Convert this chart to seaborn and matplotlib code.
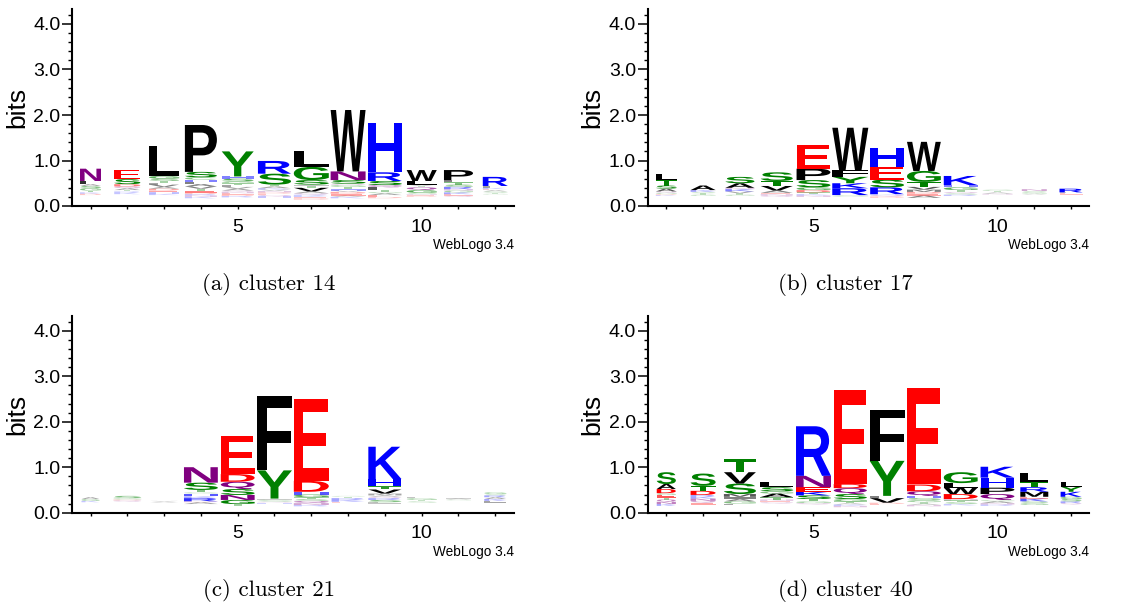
import matplotlib
matplotlib.use("Agg")
import matplotlib.pyplot as plt
import matplotlib.transforms as mtransforms
import seaborn as sns
from matplotlib.textpath import TextPath
from matplotlib.patches import PathPatch
from matplotlib.font_manager import FontProperties
from matplotlib.ticker import FixedLocator

# positions 1..12; each stack is listed bottom -> top (letters, heights in bits)
# floor = summed height of the many tiny letters too thin to be seen

# cluster 14
c14_floor = [.24, .26, .24, .17, .19, .18, .14, .17, .17, .20, .20, .25]
c14_width = [.57, .71, .82, .87, .87, .90, .95, .95, .92, .82, .79, .68]
c14_letters = ["DKTGSALN", "KRTAQDSE", "KHEDAVFTSGL", "KNRDETVALHCSP",
               "RDENQAVLTGSHY", "HQEDNVKATSR", "DEKRQAVTISGL", "KAEDVHTGQSNW",
               "DEAGTLQSRH", "DENSGQTVLW", "QEKGNRSTLP", "GTSAEKLR"]
c14_heights = [
    [.03, .03, .04, .05, .05, .04, .07, .27],
    [.03, .03, .03, .04, .04, .05, .11, .21],
    [.03, .03, .04, .04, .04, .05, .04, .04, .05, .06, .66],
    [.03, .03, .03, .03, .05, .04, .05, .05, .05, .05, .05, .12, 1.03],
    [.03, .03, .03, .03, .03, .04, .04, .04, .04, .04, .06, .05, .55],
    [.03, .03, .03, .03, .03, .03, .03, .04, .04, .24, .28],
    [.03, .03, .03, .02, .03, .04, .08, .04, .03, .10, .29, .35],
    [.03, .03, .04, .04, .03, .04, .04, .04, .03, .08, .19, 1.35],
    [.03, .04, .04, .03, .04, .06, .05, .09, .19, 1.08],
    [.02, .02, .02, .03, .06, .06, .03, .03, .08, .24],
    [.03, .03, .04, .04, .03, .05, .05, .05, .05, .22],
    [.02, .02, .03, .03, .02, .03, .04, .20],
]

# cluster 17
c17_floor = [.22, .22, .22, .20, .20, .20, .18, .18, .22, .25, .25, .25]
c17_width = [.57, .68, .79, .87, .92, .98, .92, .92, .92, .82, .68, .63]
c17_letters = ["KDGQASTL", "GTSKA", "GTVKNAS", "QNEAVTS", "NKTDGSPE",
               "GSRKYFW", "DQKRSEH", "AEDMVTGW", "RSQTGHK", "NATG", "AGSN", "ELR"]
c17_heights = [
    [.02, .02, .03, .03, .06, .07, .12, .14],
    [.03, .03, .03, .04, .10],
    [.03, .03, .04, .05, .03, .10, .14],
    [.03, .03, .03, .05, .10, .11, .19],
    [.03, .03, .04, .05, .06, .16, .25, .52],
    [.02, .02, .15, .11, .14, .15, .93],
    [.03, .03, .02, .15, .17, .28, .42],
    [.05, .04, .04, .05, .06, .11, .24, .64],
    [.03, .03, .03, .04, .06, .05, .20],
    [.02, .03, .03, .03],
    [.02, .03, .03, .04],
    [.03, .02, .08],
]

# cluster 21
c21_floor = [.23, .24, .22, .19, .15, .20, .14, .22, .20, .22, .27, .22]
c21_width = [.49, .76, .76, .92, .92, .95, .95, .90, .90, .82, .68, .60]
c21_letters = ["KGA", "QDGS", "AV", "ADRKHGTSN", "TGNSQDE", "HQSGLYF",
               "RNQSTGHDE", "EKRTG", "LSRQAMVTHK", "STGL", "GAL", "LKARSG"]
c21_heights = [
    [.03, .04, .04],
    [.03, .02, .03, .05],
    [.02, .02],
    [.04, .02, .07, .04, .06, .03, .05, .16, .34],
    [.04, .09, .11, .13, .16, .17, .83],
    [.02, .02, .03, .02, .02, .62, 1.64],
    [.03, .04, .05, .04, .04, .06, .06, .24, 1.80],
    [.02, .04, .04, .03, .02],
    [.03, .05, .04, .03, .03, .04, .09, .07, .16, .71],
    [.03, .03, .04, .03],
    [.02, .02, .02],
    [.04, .04, .04, .04, .03, .04],
]

# cluster 40
c40_floor = [.15, .18, .16, .20, .18, .12, .16, .14, .16, .15, .17, .18]
c40_width = [.52, .68, .87, .90, .95, .90, .95, .92, .92, .92, .76, .57]
c40_letters = ["KNQTEGDAS", "EQNKRDTS", "LGAIMSVT", "QENTAGSL", "QGTSKENR",
               "NKATGSQDE", "EDVLYF", "NATGSHQDE", "KSTNDWLG", "RNAGQPHK",
               "GSKEMRTL", "QRSGKYL"]
c40_heights = [
    [.04, .05, .05, .04, .06, .04, .09, .11, .26],
    [.04, .04, .05, .04, .04, .09, .11, .27],
    [.04, .05, .05, .05, .06, .23, .25, .28],
    [.03, .03, .03, .05, .08, .05, .09, .12],
    [.03, .04, .05, .08, .08, .10, .25, 1.09],
    [.03, .03, .03, .04, .05, .11, .13, .09, 2.07],
    [.03, .03, .10, .05, .77, 1.12],
    [.03, .03, .03, .04, .05, .05, .10, .15, 2.11],
    [.03, .04, .04, .03, .11, .14, .10, .24],
    [.03, .03, .04, .03, .13, .14, .22, .24],
    [.04, .04, .06, .04, .11, .10, .12, .20],
    [.03, .04, .05, .05, .11, .11, .11],
]

captions = ["(a) cluster 14", "(b) cluster 17", "(c) cluster 21", "(d) cluster 40"]

# weblogo "chemistry" colour scheme
chem = {}
for aa in "GSTYC":
    chem[aa] = "#008000"
for aa in "NQ":
    chem[aa] = "#800080"
for aa in "KRH":
    chem[aa] = "#0000ff"
for aa in "DE":
    chem[aa] = "#ff0000"
for aa in "AVLIPWFM":
    chem[aa] = "#000000"

sns.set_theme(style="ticks")
plt.rcParams["font.family"] = ["Liberation Sans", "DejaVu Sans"]

fp = FontProperties(family="Liberation Sans", weight="bold")
_glyphs = {}


def glyph(ch):
    if ch not in _glyphs:
        p = TextPath((0, 0), ch, size=1, prop=fp)
        _glyphs[ch] = (p, p.get_extents())
    return _glyphs[ch]


def draw_logo(ax, floor, widths, letters, heights):
    for i in range(len(letters)):
        x = i + 1
        w = widths[i]
        y = floor[i]
        for ch, h in zip(letters[i], heights[i]):
            path, bb = glyph(ch)
            tr = (mtransforms.Affine2D()
                  .translate(-bb.x0, -bb.y0)
                  .scale(w / bb.width, h / bb.height)
                  .translate(x - w / 2, y))
            # very thin letters render washed out in the original
            a = max(0.18, min(1.0, (h / 0.08) ** 1.5))
            ax.add_patch(PathPatch(tr.transform_path(path), fc=chem[ch],
                                   lw=0, alpha=a))
            y += h


W, H = 1129, 608
unit_x = 36.8
unit_y = 45.5
ymax = 4.32
origins = [(90.5, 206), (666.3, 206), (90.5, 512.7), (666.3, 512.7)]
caption_xy = [(269, 284), (845, 284), (269, 591), (845, 591)]
panels = [
    (c14_floor, c14_width, c14_letters, c14_heights),
    (c17_floor, c17_width, c17_letters, c17_heights),
    (c21_floor, c21_width, c21_letters, c21_heights),
    (c40_floor, c40_width, c40_letters, c40_heights),
]

fig = plt.figure(figsize=(W / 100, H / 100), dpi=100)
fig.patch.set_facecolor("white")

for k, data in enumerate(panels):
    px1, py0 = origins[k]
    left = px1 - 0.5 * unit_x
    rect = [left / W, (H - py0) / H, 12 * unit_x / W, ymax * unit_y / H]
    ax = fig.add_axes(rect)
    ax.set_facecolor("white")
    draw_logo(ax, *data)
    ax.set_xlim(0.5, 12.5)
    ax.set_ylim(0, ymax)
    sns.despine(ax=ax)
    for s in ("left", "bottom"):
        ax.spines[s].set_linewidth(1.5)
        ax.spines[s].set_color("black")

    ax.set_yticks([0, 1, 2, 3, 4])
    ax.set_yticklabels(["0.0", "1.0", "2.0", "3.0", "4.0"])
    ax.yaxis.set_minor_locator(FixedLocator([v / 10 for v in range(0, 43, 2)]))
    ax.tick_params(axis="y", which="major", length=7, width=1.1, pad=1.5,
                   labelsize=14, color="black", labelcolor="black")
    ax.tick_params(axis="y", which="minor", length=3.2, width=1.0, color="black")

    ax.set_xticks(range(1, 13))
    ax.set_xticklabels(["5" if i == 5 else "10" if i == 10 else "" for i in range(1, 13)])
    ax.tick_params(axis="x", which="major", length=2.5, width=1.0, pad=6.5,
                   labelsize=14, color="black", labelcolor="black")

    ax.set_ylabel("bits", fontsize=19, labelpad=3, color="black")
    ax.grid(False)
    ax.text(1.0, -0.198, "WebLogo 3.4", transform=ax.transAxes, ha="right",
            va="center", fontsize=9.8, color="black")

    cx, cy = caption_xy[k]
    fig.text(cx / W, 1 - cy / H, captions[k], ha="center", va="center",
             family="cmr10", fontsize=16.5, color="black")

fig.savefig("out.png", dpi=100, facecolor="white")
